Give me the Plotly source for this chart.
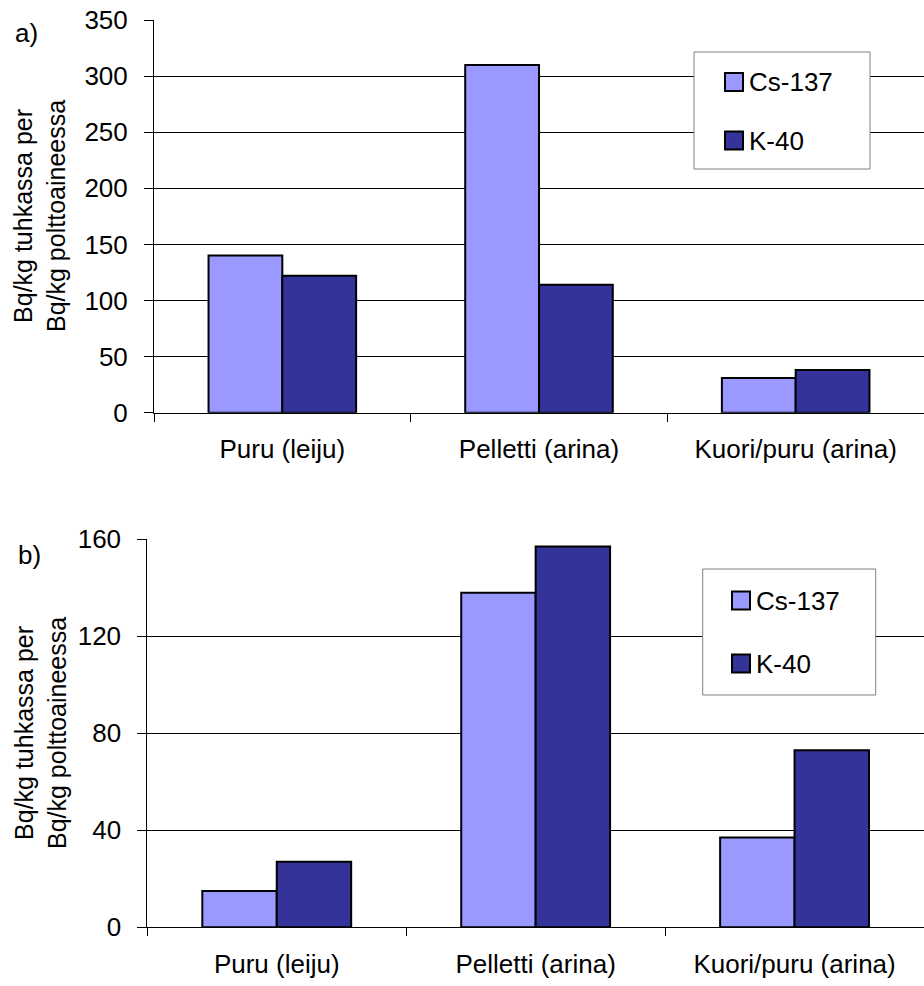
import plotly.graph_objects as go

# Data
categories = ["Puru (leiju)", "Pelletti (arina)", "Kuori/puru (arina)"]
series_names = ["Cs-137", "K-40"]
colors = ["#9999FF", "#333399"]

# a) Bq/kg in ash per Bq/kg in fuel
a_cs137 = [140, 310, 31]
a_k40 = [122, 114, 38]

# b)
b_cs137 = [15, 138, 37]
b_k40 = [27, 157, 73]

W, H = 924, 986
FONT = "Liberation Sans, Arial, sans-serif"
FS = 26        # horizontal labels
FS_TITLE = 25  # rotated axis titles


def px(x):
    return x / W


def py(y):
    return 1 - y / H


fig = go.Figure()

for name, vals, col in zip(series_names, [a_cs137, a_k40], colors):
    fig.add_trace(go.Bar(x=categories, y=vals, name=name, marker_color=col,
                         marker_line=dict(color="black", width=2),
                         xaxis="x", yaxis="y", showlegend=False))
for name, vals, col in zip(series_names, [b_cs137, b_k40], colors):
    fig.add_trace(go.Bar(x=categories, y=vals, name=name, marker_color=col,
                         marker_line=dict(color="black", width=2),
                         xaxis="x2", yaxis="y2", showlegend=False))

xcommon = dict(type="category", showline=True, linecolor="black", linewidth=1,
               ticks="outside", tickson="boundaries", ticklen=8, tickcolor="black",
               showgrid=False, tickfont=dict(family=FONT, size=FS, color="black"),
               range=[-0.5, 2.5], fixedrange=True, automargin=False,
               ticklabelstandoff=13)
ycommon = dict(showline=True, linecolor="black", linewidth=1, ticks="outside",
               ticklen=9, tickcolor="black", showgrid=True, gridcolor="black",
               gridwidth=1, zeroline=False, automargin=False,
               tickfont=dict(family=FONT, size=FS, color="black"),
               ticklabelstandoff=11)

fig.update_layout(
    width=W, height=H,
    margin=dict(l=0, r=0, t=0, b=0, pad=0, autoexpand=False),
    paper_bgcolor="white", plot_bgcolor="white",
    barmode="group", bargap=0.425, bargroupgap=0,
    font=dict(family=FONT, size=FS, color="black"),
    xaxis=dict(domain=[px(154), 1], anchor="y", **xcommon),
    yaxis=dict(domain=[py(412.7), py(20)], anchor="x", range=[0, 350],
               dtick=50, **ycommon),
    xaxis2=dict(domain=[px(147.3), 1], anchor="y2", **xcommon),
    yaxis2=dict(domain=[py(927.3), py(539.3)], anchor="x2", range=[0, 160],
                dtick=40, **ycommon),
)

ytitle = "Bq/kg tuhkassa per<br>Bq/kg polttoaineessa"
annotations = [
    dict(text=ytitle, x=px(40), y=py(216), textangle=-90, size=FS_TITLE),
    dict(text=ytitle, x=px(40), y=py(733), textangle=-90, size=FS_TITLE),
    dict(text="a)", x=px(26), y=py(33)),
    dict(text="b)", x=px(30), y=py(555)),
]

shapes = []


def add_legend(box, sq_x, rows):
    x0, y0, x1, y1 = box
    shapes.append(dict(type="rect", xref="paper", yref="paper",
                       x0=px(x0), x1=px(x1), y0=py(y1), y1=py(y0),
                       fillcolor="white", line=dict(color="#808080", width=1),
                       layer="above"))
    for (ycen, name, col) in rows:
        shapes.append(dict(type="rect", xref="paper", yref="paper",
                           x0=px(sq_x), x1=px(sq_x + 18), y0=py(ycen + 9),
                           y1=py(ycen - 9), fillcolor=col,
                           line=dict(color="black", width=2), layer="above"))
        annotations.append(dict(text=name, x=px(sq_x + 22), y=py(ycen),
                                xanchor="left"))


add_legend((694, 52, 870, 169), 725,
           [(82, series_names[0], colors[0]), (140.5, series_names[1], colors[1])])
add_legend((702.7, 569, 875.7, 695), 732,
           [(600.5, series_names[0], colors[0]), (663.5, series_names[1], colors[1])])

for a in annotations:
    a.setdefault("xanchor", "center")
    size = a.pop("size", FS)
    a.update(xref="paper", yref="paper", yanchor="middle", showarrow=False,
             font=dict(family=FONT, size=size, color="black"))

fig.update_layout(annotations=annotations, shapes=shapes)

fig.write_html("out.html")
